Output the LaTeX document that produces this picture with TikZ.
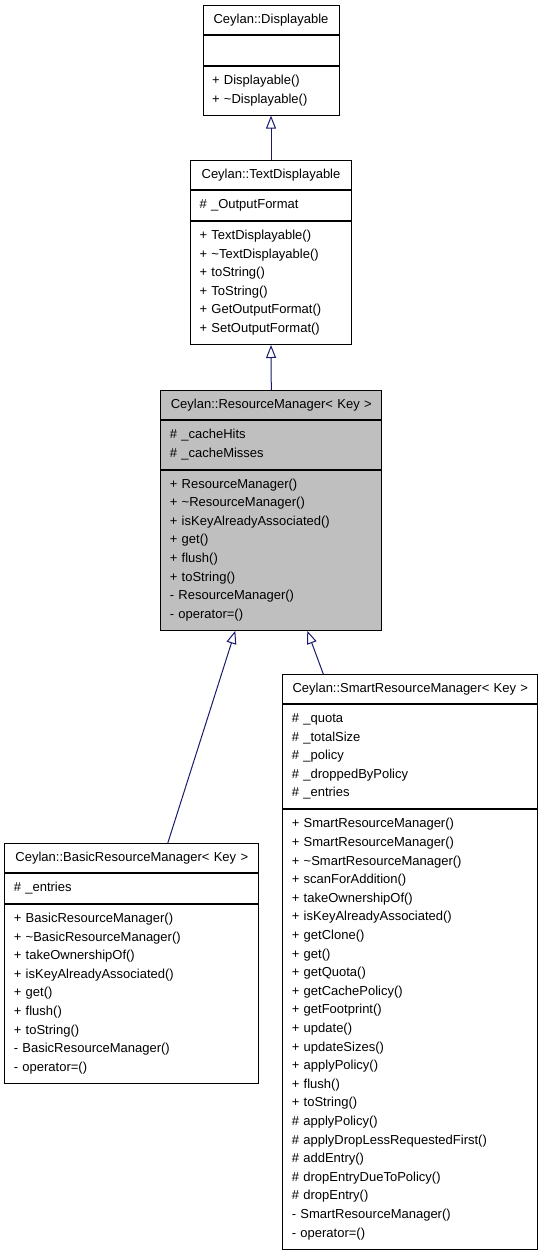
\documentclass[tikz,border=0pt]{standalone}
\usepackage{fontspec}
\setmainfont{Liberation Sans}
\usetikzlibrary{arrows.meta}
\newcommand\ml{\rule[-6.3pt]{0pt}{18.6pt}}
\definecolor{edgeblue}{RGB}{25,25,112}
\definecolor{rmgrey}{RGB}{191,191,191}
\tikzset{
  box/.style={draw=black, line width=1pt, anchor=north, inner xsep=9pt, inner ysep=5.7pt,
    text width=#1, align=left, font=\fontsize{13pt}{18.6pt}\selectfont},
  titlebox/.style={box=#1, align=center, inner ysep=5.2pt},
  inh/.style={draw=edgeblue, line width=1pt, -{Triangle[open, length=13pt, width=10pt]}},
}
\begin{document}
\begin{tikzpicture}[x=1pt,y=-1pt]
\useasboundingbox (0,0) rectangle (544,1253);
% Displayable
\node[titlebox=118pt] (dT) at (271,5) {\ml Ceylan::Displayable};
\node[box=118pt] (dA) at (dT.south) {\ml};
\node[box=118pt] (dM) at (dA.south) {\ml + Displayable()\\\ml + \textasciitilde Displayable()};
% TextDisplayable
\node[titlebox=143pt] (tT) at (271,160) {\ml Ceylan::TextDisplayable};
\node[box=143pt] (tA) at (tT.south) {\ml \# \_OutputFormat};
\node[box=143pt] (tM) at (tA.south) {\ml + TextDisplayable()\\\ml + \textasciitilde TextDisplayable()\\\ml + toString()\\\ml + ToString()\\\ml + GetOutputFormat()\\\ml + SetOutputFormat()};
% ResourceManager
\node[titlebox=203pt, fill=rmgrey] (rT) at (271.3,390) {\ml Ceylan::ResourceManager< Key >};
\node[box=203pt, fill=rmgrey] (rA) at (rT.south) {\ml \# \_cacheHits\\\ml \# \_cacheMisses};
\node[box=203pt, fill=rmgrey] (rM) at (rA.south) {\ml + ResourceManager()\\\ml + \textasciitilde ResourceManager()\\\ml + isKeyAlreadyAssociated()\\\ml + get()\\\ml + flush()\\\ml + toString()\\\ml - ResourceManager()\\\ml - operator=()};
% BasicResourceManager
\node[titlebox=236pt] (bT) at (131.8,843) {\ml Ceylan::BasicResourceManager< Key >};
\node[box=236pt] (bA) at (bT.south) {\ml \# \_entries};
\node[box=236pt] (bM) at (bA.south) {\ml + BasicResourceManager()\\\ml + \textasciitilde BasicResourceManager()\\\ml + takeOwnershipOf()\\\ml + isKeyAlreadyAssociated()\\\ml + get()\\\ml + flush()\\\ml + toString()\\\ml - BasicResourceManager()\\\ml - operator=()};
% SmartResourceManager
\node[titlebox=237pt] (sT) at (410.3,674) {\ml Ceylan::SmartResourceManager< Key >};
\node[box=237pt] (sA) at (sT.south) {\ml \# \_quota\\\ml \# \_totalSize\\\ml \# \_policy\\\ml \# \_droppedByPolicy\\\ml \# \_entries};
\node[box=237pt] (sM) at (sA.south) {\ml + SmartResourceManager()\\\ml + SmartResourceManager()\\\ml + \textasciitilde SmartResourceManager()\\\ml + scanForAddition()\\\ml + takeOwnershipOf()\\\ml + isKeyAlreadyAssociated()\\\ml + getClone()\\\ml + get()\\\ml + getQuota()\\\ml + getCachePolicy()\\\ml + getFootprint()\\\ml + update()\\\ml + updateSizes()\\\ml + applyPolicy()\\\ml + flush()\\\ml + toString()\\\ml \# applyPolicy()\\\ml \# applyDropLessRequestedFirst()\\\ml \# addEntry()\\\ml \# dropEntryDueToPolicy()\\\ml \# dropEntry()\\\ml - SmartResourceManager()\\\ml - operator=()};
% connectors
\coordinate (e1s) at ([xshift=36pt]bT.north);
\coordinate (e1t) at ([xshift=-36pt]rM.south);
\coordinate (e2s) at ([xshift=-87pt]sT.north);
\coordinate (e2t) at ([xshift=36pt]rM.south);
\draw[inh] (tT.north) -- (dM.south);
\draw[inh] (rT.north) -- (tM.south);
\draw[inh] (e1s) -- (e1t);
\draw[inh] (e2s) -- (e2t);
\end{tikzpicture}
\end{document}
